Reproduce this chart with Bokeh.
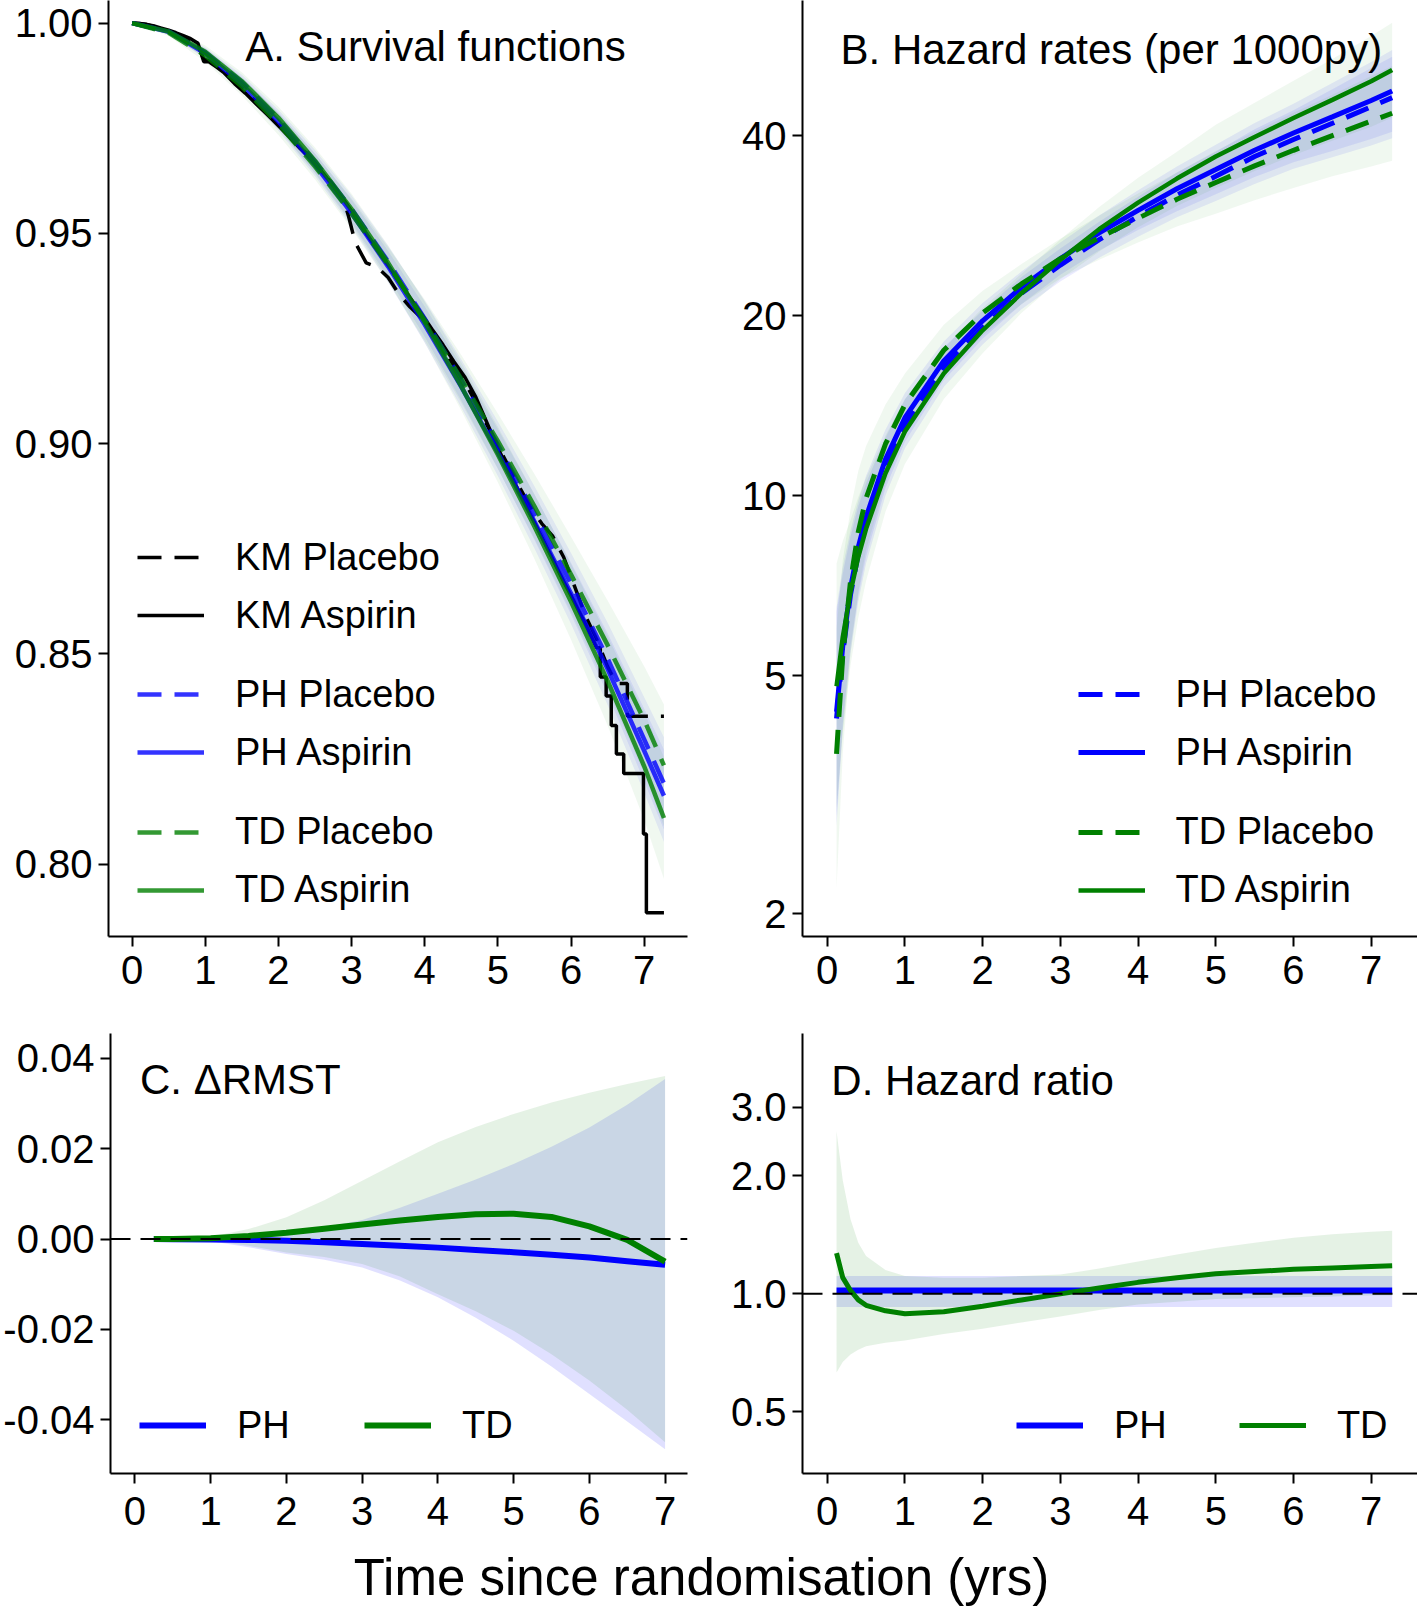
from bokeh.plotting import figure
from bokeh.models import (Range1d, FixedTicker, PrintfTickFormatter, Legend,
                          LegendItem, Label, Span)
from bokeh.layouts import column, row
from bokeh.embed import file_html
from bokeh.resources import INLINE

FONT = "Liberation Sans"
BLUE = "#0000ff"
GREEN = "#008000"

x_ticks = [0, 1, 2, 3, 4, 5, 6, 7]

# ---------------- A. Survival functions ----------------
t_surv = [0, 0.5, 1, 1.5, 2, 2.5, 3, 3.5, 4, 4.5, 5, 5.5, 6, 6.5, 7, 7.27]
ph_aspirin_surv = [1.0, 0.9979, 0.9928, 0.9855, 0.9766, 0.9663, 0.9548, 0.9421, 0.9283, 0.9135, 0.8979, 0.8815, 0.8644, 0.8464, 0.8270, 0.8163]
ph_aspirin_lo = [1.0, 0.9973, 0.9916, 0.9838, 0.9744, 0.9636, 0.9516, 0.9384, 0.9240, 0.9086, 0.8923, 0.8751, 0.8571, 0.8379, 0.8170, 0.8053]
ph_aspirin_hi = [1.0, 0.9985, 0.9940, 0.9872, 0.9788, 0.9690, 0.9580, 0.9458, 0.9326, 0.9184, 0.9035, 0.8879, 0.8717, 0.8549, 0.8370, 0.8273]
ph_placebo_surv = [1.0, 0.9980, 0.9930, 0.9860, 0.9772, 0.9671, 0.9558, 0.9433, 0.9297, 0.9151, 0.8997, 0.8835, 0.8667, 0.8489, 0.8297, 0.8192]
ph_placebo_lo = [1.0, 0.9974, 0.9918, 0.9843, 0.9750, 0.9644, 0.9526, 0.9396, 0.9254, 0.9102, 0.8941, 0.8771, 0.8594, 0.8404, 0.8197, 0.8082]
ph_placebo_hi = [1.0, 0.9986, 0.9942, 0.9877, 0.9794, 0.9698, 0.9590, 0.9470, 0.9340, 0.9200, 0.9053, 0.8899, 0.8740, 0.8574, 0.8397, 0.8302]
td_aspirin_surv = [1.0, 0.9980, 0.9932, 0.9862, 0.9775, 0.9673, 0.9558, 0.9430, 0.9289, 0.9136, 0.8974, 0.8803, 0.8624, 0.8436, 0.8233, 0.8110]
td_aspirin_lo = [1.0, 0.9972, 0.9917, 0.9841, 0.9749, 0.9642, 0.9522, 0.9388, 0.9240, 0.9079, 0.8908, 0.8726, 0.8534, 0.8330, 0.8105, 0.7965]
td_aspirin_hi = [1.0, 0.9988, 0.9947, 0.9883, 0.9801, 0.9704, 0.9594, 0.9472, 0.9338, 0.9193, 0.9040, 0.8880, 0.8714, 0.8542, 0.8361, 0.8255]
td_placebo_surv = [1.0, 0.9977, 0.9923, 0.9849, 0.9760, 0.9659, 0.9547, 0.9425, 0.9294, 0.9154, 0.9006, 0.8851, 0.8689, 0.8521, 0.8343, 0.8235]
td_placebo_lo = [1.0, 0.9969, 0.9908, 0.9828, 0.9734, 0.9628, 0.9511, 0.9383, 0.9245, 0.9097, 0.8940, 0.8774, 0.8599, 0.8415, 0.8215, 0.8090]
td_placebo_hi = [1.0, 0.9985, 0.9938, 0.9870, 0.9786, 0.9690, 0.9583, 0.9467, 0.9343, 0.9211, 0.9072, 0.8928, 0.8779, 0.8627, 0.8471, 0.8380]

# Kaplan-Meier estimates (corner points of the empirical curves)
km_aspirin_t = [0, 0.1, 0.2, 0.3, 0.4, 0.5, 0.6, 0.7, 0.8, 0.9, 0.98, 1.05, 1.15, 1.25, 1.4, 1.55, 1.7, 1.85, 2.0, 2.15, 2.3, 2.45, 2.6, 2.75, 2.9, 3.05, 3.2, 3.35, 3.5, 3.65, 3.8, 3.95, 4.1, 4.25, 4.4, 4.55, 4.7, 4.85, 5.0, 5.15, 5.3, 5.45, 5.6, 5.75, 5.9, 6.05, 6.2, 6.35, 6.40, 6.40, 6.48, 6.48, 6.55, 6.55, 6.62, 6.62, 6.72, 6.72, 6.99, 6.99, 7.03, 7.03, 7.27]
km_aspirin_s = [1.0, 0.9999, 0.9997, 0.9993, 0.9988, 0.9983, 0.9977, 0.9970, 0.9963, 0.9952, 0.9908, 0.9908, 0.9896, 0.9883, 0.9856, 0.9833, 0.9807, 0.9782, 0.9756, 0.9729, 0.9701, 0.9676, 0.9645, 0.9612, 0.9578, 0.9540, 0.9500, 0.9462, 0.9424, 0.9385, 0.9347, 0.9310, 0.9272, 0.9235, 0.9195, 0.9158, 0.9110, 0.9050, 0.8990, 0.8935, 0.8882, 0.8830, 0.8778, 0.8725, 0.8672, 0.8622, 0.8570, 0.8515, 0.8515, 0.8445, 0.8445, 0.8400, 0.8400, 0.8330, 0.8330, 0.8262, 0.8262, 0.8216, 0.8216, 0.8072, 0.8072, 0.7885, 0.7885]
km_placebo_t = [0, 0.1, 0.2, 0.3, 0.4, 0.5, 0.6, 0.7, 0.8, 0.9, 0.98, 1.05, 1.15, 1.25, 1.4, 1.55, 1.7, 1.85, 2.0, 2.15, 2.3, 2.45, 2.6, 2.75, 2.9, 2.96, 3.05, 3.2, 3.35, 3.5, 3.65, 3.8, 3.95, 4.1, 4.25, 4.4, 4.55, 4.7, 4.85, 5.0, 5.15, 5.3, 5.45, 5.6, 5.75, 5.9, 6.05, 6.2, 6.35, 6.5, 6.62, 6.77, 6.77, 7.27]
km_placebo_s = [1.0, 0.9999, 0.9996, 0.9992, 0.9987, 0.9981, 0.9974, 0.9967, 0.9958, 0.9947, 0.9914, 0.9910, 0.9899, 0.9886, 0.9862, 0.9838, 0.9812, 0.9786, 0.9760, 0.9732, 0.9705, 0.9678, 0.9647, 0.9614, 0.9575, 0.9540, 0.9478, 0.9430, 0.9420, 0.9395, 0.9355, 0.9325, 0.9300, 0.9262, 0.9225, 0.9185, 0.9145, 0.9098, 0.9045, 0.8995, 0.8945, 0.8895, 0.8848, 0.8810, 0.8780, 0.8730, 0.8660, 0.8590, 0.8535, 0.8470, 0.8430, 0.8430, 0.8352, 0.8352]

# ---------------- B. Hazard rates ----------------
t_haz = [0.12, 0.2, 0.3, 0.4, 0.5, 0.75, 1, 1.5, 2, 2.5, 3, 3.5, 4, 4.5, 5, 5.5, 6, 6.5, 7, 7.27]
ph_aspirin_haz = [4.35, 5.6, 7.0, 8.2, 9.2, 11.5, 13.5, 16.8, 19.6, 22.3, 24.9, 27.5, 30.0, 32.6, 35.1, 37.8, 40.4, 43.0, 45.8, 47.5]
ph_aspirin_haz_lo = [2.9, 4.15, 5.6, 6.8, 7.9, 10.3, 12.3, 15.6, 18.3, 20.9, 23.4, 25.7, 27.8, 29.9, 31.9, 34.1, 36.1, 37.7, 39.5, 40.6]
ph_aspirin_haz_hi = [6.5, 7.6, 8.75, 9.8, 10.8, 12.9, 14.85, 18.1, 21.0, 23.7, 26.5, 29.4, 32.4, 35.5, 38.6, 42.0, 45.2, 49.0, 53.1, 55.6]
ph_placebo_haz = [4.24, 5.46, 6.83, 8.0, 8.98, 11.2, 13.17, 16.4, 19.1, 21.8, 24.3, 26.8, 29.3, 31.8, 34.2, 36.9, 39.4, 41.95, 44.7, 46.3]
ph_placebo_haz_lo = [2.8, 4.05, 5.45, 6.65, 7.7, 10.0, 12.0, 15.2, 17.9, 20.5, 22.8, 25.0, 27.1, 29.2, 31.1, 33.2, 35.2, 36.8, 38.5, 39.6]
ph_placebo_haz_hi = [6.4, 7.4, 8.55, 9.6, 10.5, 12.5, 14.5, 17.7, 20.4, 23.2, 25.9, 28.7, 31.6, 34.7, 37.6, 41.0, 44.1, 47.8, 51.9, 54.2]
td_aspirin_haz = [4.8, 5.8, 6.9, 7.9, 8.8, 10.9, 12.8, 16.0, 18.9, 21.8, 24.8, 27.9, 30.9, 33.9, 36.9, 39.8, 42.8, 45.9, 49.3, 51.5]
td_aspirin_haz_lo = [3.0, 4.0, 5.2, 6.25, 7.2, 9.4, 11.3, 14.5, 17.3, 20.2, 23.0, 25.6, 28.1, 30.5, 32.7, 34.9, 37.1, 39.2, 41.4, 42.9]
td_aspirin_haz_hi = [7.7, 8.4, 9.1, 9.95, 10.7, 12.6, 14.5, 17.6, 20.6, 23.5, 26.8, 30.4, 34.0, 37.6, 41.7, 45.4, 49.4, 53.7, 58.7, 61.8]
td_placebo_haz = [3.7, 5.4, 7.2, 8.7, 9.9, 12.2, 14.2, 17.5, 20.2, 22.6, 24.9, 27.0, 29.1, 31.3, 33.4, 35.6, 37.8, 40.0, 42.3, 43.6]
td_placebo_haz_lo = [2.2, 3.7, 5.45, 6.9, 8.1, 10.5, 12.6, 15.9, 18.5, 20.9, 23.1, 24.8, 26.5, 28.2, 29.6, 31.2, 32.7, 34.2, 35.5, 36.3]
td_placebo_haz_hi = [6.0, 7.8, 9.5, 11.0, 12.1, 14.2, 16.0, 19.3, 22.0, 24.4, 26.9, 29.4, 32.0, 34.7, 37.7, 40.6, 43.7, 46.8, 50.3, 52.3]
haz_ticks = [2, 5, 10, 20, 40]

# ---------------- C. Delta RMST ----------------
t_rmst = [0.25, 0.5, 1, 1.5, 2, 2.5, 3, 3.5, 4, 4.5, 5, 5.5, 6, 6.5, 7]
ph_drmst = [0, -0.00002, -0.0001, -0.0002, -0.0004, -0.0007, -0.0011, -0.0015, -0.0019, -0.0024, -0.0029, -0.0035, -0.0041, -0.0049, -0.0057]
ph_drmst_lo = [0, -0.0001, -0.0005, -0.0018, -0.0033, -0.0046, -0.0063, -0.0092, -0.0129, -0.0174, -0.0225, -0.0282, -0.0343, -0.0404, -0.0465]
ph_drmst_hi = [0, 0.0, 0.0002, 0.0007, 0.0014, 0.0026, 0.0042, 0.0069, 0.0100, 0.0132, 0.0166, 0.0204, 0.0247, 0.0297, 0.0354]
td_drmst = [0, 0.0, 0.0002, 0.0007, 0.0014, 0.0023, 0.0032, 0.0041, 0.0049, 0.0055, 0.0056, 0.0049, 0.0028, -0.0002, -0.0050]
td_drmst_lo = [0, -0.0001, -0.0004, -0.0015, -0.0030, -0.0040, -0.0055, -0.0083, -0.0122, -0.0160, -0.0203, -0.0255, -0.0313, -0.0378, -0.0450]
td_drmst_hi = [0, 0.0001, 0.0005, 0.0022, 0.0048, 0.0086, 0.0129, 0.0172, 0.0214, 0.0248, 0.0277, 0.0302, 0.0324, 0.0343, 0.0361]
rmst_ticks = [-0.04, -0.02, 0.0, 0.02, 0.04]

# ---------------- D. Hazard ratio ----------------
t_hr = [0.12, 0.2, 0.3, 0.4, 0.5, 0.75, 1, 1.5, 2, 2.5, 3, 3.5, 4, 4.5, 5, 5.5, 6, 6.5, 7, 7.27]
td_hr = [1.27, 1.10, 1.02, 0.965, 0.935, 0.905, 0.89, 0.90, 0.93, 0.965, 1.00, 1.035, 1.07, 1.10, 1.125, 1.14, 1.155, 1.165, 1.175, 1.18]
td_hr_lo = [0.63, 0.67, 0.70, 0.72, 0.735, 0.75, 0.76, 0.79, 0.815, 0.845, 0.875, 0.91, 0.94, 0.955, 0.97, 0.975, 0.98, 0.985, 0.99, 0.99]
td_hr_hi = [2.6, 1.95, 1.55, 1.35, 1.25, 1.15, 1.11, 1.10, 1.10, 1.11, 1.12, 1.16, 1.21, 1.26, 1.31, 1.35, 1.39, 1.42, 1.44, 1.45]
t_ph_hr = [0.12, 7.27]
ph_hr = [1.02, 1.02]
ph_hr_lo = [0.925, 0.925]
ph_hr_hi = [1.11, 1.11]
hr_ticks = [0.5, 1.0, 2.0, 3.0]

TICK_FONT = "40px"
LEG_FONT = "38px"
TITLE_FONT = "42px"


def make_fig(width, height, xr, yr, borders, ylog=False):
    left, right, top, bottom = borders
    p = figure(width=width, height=height, x_range=Range1d(*xr), y_range=Range1d(*yr),
               y_axis_type="log" if ylog else "linear", title=None,
               min_border_left=left, min_border_right=right,
               min_border_top=top, min_border_bottom=bottom,
               output_backend="svg", toolbar_location=None)
    p.outline_line_color = None
    p.xgrid.visible = False
    p.ygrid.visible = False
    p.background_fill_color = "white"
    p.border_fill_color = "white"
    return p


def style_axes(p, yticks, yfmt, xstandoff):
    for ax in [p.xaxis[0], p.yaxis[0]]:
        ax.axis_line_width = 2
        ax.axis_line_color = "black"
        ax.major_tick_line_width = 2
        ax.major_tick_line_color = "black"
        ax.major_tick_out = 10
        ax.major_tick_in = 0
        ax.minor_tick_line_color = None
        ax.major_label_text_font = FONT
        ax.major_label_text_font_size = TICK_FONT
        ax.major_label_text_color = "black"
    p.xaxis[0].ticker = FixedTicker(ticks=x_ticks)
    p.yaxis[0].ticker = FixedTicker(ticks=yticks)
    p.yaxis[0].formatter = PrintfTickFormatter(format=yfmt)
    p.xaxis[0].major_label_standoff = xstandoff
    p.yaxis[0].major_label_standoff = 6


def make_legend(items, loc, orientation="vertical", label_width=20):
    return Legend(items=items, location=loc, orientation=orientation,
                  glyph_width=67, glyph_height=58, label_height=58,
                  label_width=label_width, label_standoff=31, spacing=0,
                  padding=0, margin=0, border_line_alpha=0,
                  background_fill_alpha=0, label_text_font=FONT,
                  label_text_font_size=LEG_FONT, label_text_color="black")


def title(p, x, y, text):
    p.add_layout(Label(x=x, y=y, text=text, text_font=FONT, text_font_size=TITLE_FONT,
                       text_baseline="middle", text_align="left", text_color="black"))


DASH = "24 13"

# ---- Panel A ----
pA = make_fig(700, 1002, (-0.3226, 7.592), (0.78283, 1.00537), (108, 13, 0, 66))
style_axes(pA, [0.80, 0.85, 0.90, 0.95, 1.00], "%.2f", 9)
for lo, hi, c, a in [(ph_aspirin_lo, ph_aspirin_hi, BLUE, 0.07), (ph_placebo_lo, ph_placebo_hi, BLUE, 0.07),
                     (td_aspirin_lo, td_aspirin_hi, GREEN, 0.06), (td_placebo_lo, td_placebo_hi, GREEN, 0.06)]:
    pA.varea(x=t_surv, y1=lo, y2=hi, fill_color=c, fill_alpha=a)
rA_kmp = pA.line(km_placebo_t, km_placebo_s, line_color="black", line_width=3.5, line_dash=DASH)
rA_kma = pA.line(km_aspirin_t, km_aspirin_s, line_color="black", line_width=3.5)
rA_php = pA.line(t_surv, ph_placebo_surv, line_color=BLUE, line_alpha=0.8, line_width=4.5, line_dash=DASH)
rA_pha = pA.line(t_surv, ph_aspirin_surv, line_color=BLUE, line_alpha=0.8, line_width=4.5)
rA_tdp = pA.line(t_surv, td_placebo_surv, line_color=GREEN, line_alpha=0.8, line_width=4.5, line_dash=DASH)
rA_tda = pA.line(t_surv, td_aspirin_surv, line_color=GREEN, line_alpha=0.8, line_width=4.5)
pA.add_layout(make_legend([LegendItem(label="KM Placebo", renderers=[rA_kmp]),
                           LegendItem(label="KM Aspirin", renderers=[rA_kma])], (29, 292)))
pA.add_layout(make_legend([LegendItem(label="PH Placebo", renderers=[rA_php]),
                           LegendItem(label="PH Aspirin", renderers=[rA_pha])], (29, 155)))
pA.add_layout(make_legend([LegendItem(label="TD Placebo", renderers=[rA_tdp]),
                           LegendItem(label="TD Aspirin", renderers=[rA_tda])], (29, 17.5)))
title(pA, 1.546, 0.99438, "A. Survival functions")

# ---- Panel B ----
pB = make_fig(717, 1002, (-0.318, 7.596), (1.831, 67.3), (102, 0, 0, 66), ylog=True)
style_axes(pB, haz_ticks, "%d", 9)
for lo, hi, c, a in [(ph_aspirin_haz_lo, ph_aspirin_haz_hi, BLUE, 0.08), (ph_placebo_haz_lo, ph_placebo_haz_hi, BLUE, 0.08),
                     (td_aspirin_haz_lo, td_aspirin_haz_hi, GREEN, 0.06), (td_placebo_haz_lo, td_placebo_haz_hi, GREEN, 0.06)]:
    pB.varea(x=t_haz, y1=lo, y2=hi, fill_color=c, fill_alpha=a)
rB_php = pB.line(t_haz, ph_placebo_haz, line_color=BLUE, line_width=5, line_dash=DASH)
rB_pha = pB.line(t_haz, ph_aspirin_haz, line_color=BLUE, line_width=5)
rB_tdp = pB.line(t_haz, td_placebo_haz, line_color=GREEN, line_width=5, line_dash=DASH)
rB_tda = pB.line(t_haz, td_aspirin_haz, line_color=GREEN, line_width=4.5)
pB.add_layout(make_legend([LegendItem(label="PH Placebo", renderers=[rB_php]),
                           LegendItem(label="PH Aspirin", renderers=[rB_pha])], (275.6, 155)))
pB.add_layout(make_legend([LegendItem(label="TD Placebo", renderers=[rB_tdp]),
                           LegendItem(label="TD Aspirin", renderers=[rB_tda])], (275.6, 17.5)))
title(pB, 0.172, 55.7, "B. Hazard rates (per 1000py)")

# ---- Panel C ----
pC = make_fig(700, 541, (-0.322, 7.296), (-0.05189, 0.04549), (108, 13, 31, 70))
style_axes(pC, rmst_ticks, "%.2f", 13)
pC.varea(x=t_rmst, y1=ph_drmst_lo, y2=ph_drmst_hi, fill_color=BLUE, fill_alpha=0.12)
pC.varea(x=t_rmst, y1=td_drmst_lo, y2=td_drmst_hi, fill_color=GREEN, fill_alpha=0.1)
pC.add_layout(Span(location=0, dimension="width", line_color="black", line_width=2, line_dash="20 10"))
rC_ph = pC.line(t_rmst, ph_drmst, line_color=BLUE, line_width=6)
rC_td = pC.line(t_rmst, td_drmst, line_color=GREEN, line_width=6)
pC.add_layout(make_legend([LegendItem(label="PH", renderers=[rC_ph]),
                           LegendItem(label="TD", renderers=[rC_td])], (29, 18.8),
                          orientation="horizontal", label_width=127))
title(pC, 0.068, 0.0353, "C. \u0394RMST")

# ---- Panel D ----
pD = make_fig(717, 541, (-0.318, 7.596), (0.3477, 4.623), (102, 0, 31, 70), ylog=True)
style_axes(pD, hr_ticks, "%.1f", 13)
pD.varea(x=t_ph_hr, y1=ph_hr_lo, y2=ph_hr_hi, fill_color=BLUE, fill_alpha=0.12)
pD.varea(x=t_hr, y1=td_hr_lo, y2=td_hr_hi, fill_color=GREEN, fill_alpha=0.1)
rD_ph = pD.line(t_ph_hr, ph_hr, line_color=BLUE, line_width=6)
pD.add_layout(Span(location=1.0, dimension="width", line_color="black", line_width=2, line_dash="20 10"))
rD_td = pD.line(t_hr, td_hr, line_color=GREEN, line_width=5)
pD.add_layout(make_legend([LegendItem(label="PH", renderers=[rD_ph]),
                           LegendItem(label="TD", renderers=[rD_td])], (213.9, 18.8),
                          orientation="horizontal", label_width=125))
title(pD, 0.053, 3.5, "D. Hazard ratio")

# ---- common x label ----
pX = figure(width=1417, height=67, x_range=Range1d(0, 1417), y_range=Range1d(0, 67),
            x_axis_location=None, y_axis_location=None,
            min_border=0, title=None, output_backend="svg", toolbar_location=None)
pX.xgrid.visible = False
pX.ygrid.visible = False
pX.outline_line_color = None
pX.add_layout(Label(x=701, y=33, text="Time since randomisation (yrs)", text_font=FONT,
                    text_font_size="51px", text_align="center", text_baseline="middle",
                    text_color="black"))

layout = column(row(pA, pB), row(pC, pD), pX)
open("out.html", "w").write(file_html(layout, INLINE))
